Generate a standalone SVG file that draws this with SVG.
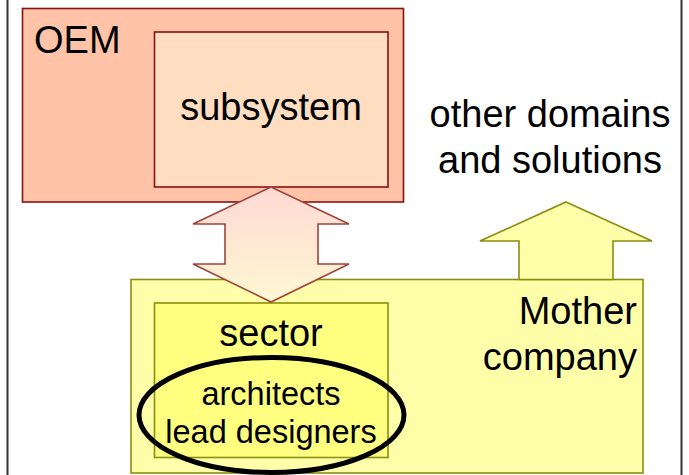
<svg xmlns="http://www.w3.org/2000/svg" width="689" height="475" viewBox="0 0 689 475">
<defs>
<linearGradient id="dbl" x1="0" y1="0" x2="0" y2="1">
<stop offset="0" stop-color="#FFD9D4"/>
<stop offset="1" stop-color="#FFF8D2"/>
</linearGradient>
<style>
text{font-family:"Liberation Sans",Arial,sans-serif;fill:#000}
.big{font-size:38px}
.small{font-size:32.5px}
.red{stroke:#8B1010;stroke-width:1.6}
.olive{stroke:#8C8C10;stroke-width:1.6}
</style>
</defs>
<rect width="689" height="475" fill="#fff"/>
<g id="frame">
<line x1="7.5" y1="0" x2="7.5" y2="475" stroke="#333" stroke-width="2"/>
<line x1="681.5" y1="0" x2="681.5" y2="475" stroke="#333" stroke-width="2"/>
</g>
<g id="oem">
<rect x="22.5" y="8.5" width="381" height="193.5" fill="#FFC4A8" class="red"/>
<text x="34" y="53" class="big">OEM</text>
</g>
<g id="subsystem">
<rect x="154.5" y="32" width="233.5" height="155" fill="#FFDDC0" class="red"/>
<text x="271" y="120" class="big" text-anchor="middle">subsystem</text>
</g>
<g id="mother">
<rect x="131" y="279.5" width="512" height="193.5" fill="#FFFFAA" class="olive"/>
<text x="637" y="324" class="big" text-anchor="end">Mother</text>
<text x="637" y="370" class="big" text-anchor="end">company</text>
</g>
<g id="sector">
<rect x="154.5" y="303" width="233.5" height="154.5" fill="#FFFF80" class="olive"/>
<text x="271" y="346" class="big" text-anchor="middle">sector</text>
</g>
<g id="others">
<text x="550" y="127" class="big" text-anchor="middle">other domains</text>
<text x="550" y="173" class="big" text-anchor="middle">and solutions</text>
</g>
<g id="connectors">
<polygon points="271,187 349,224 318,224 318,264 349,264 271,302 193,264 225,264 225,224 193,224" fill="url(#dbl)" stroke="#A0443C" stroke-width="1.6"/>
<polygon points="566,202 652,241 613,241 613,279.5 519,279.5 519,241 480,241" fill="#FFFFAA" class="olive"/>
</g>
<g id="architects">
<ellipse cx="271.5" cy="415" rx="132.5" ry="57.5" fill="none" stroke="#000" stroke-width="5"/>
<text x="271" y="405" class="small" text-anchor="middle">architects</text>
<text x="271" y="443" class="small" text-anchor="middle">lead designers</text>
</g>
</svg>
